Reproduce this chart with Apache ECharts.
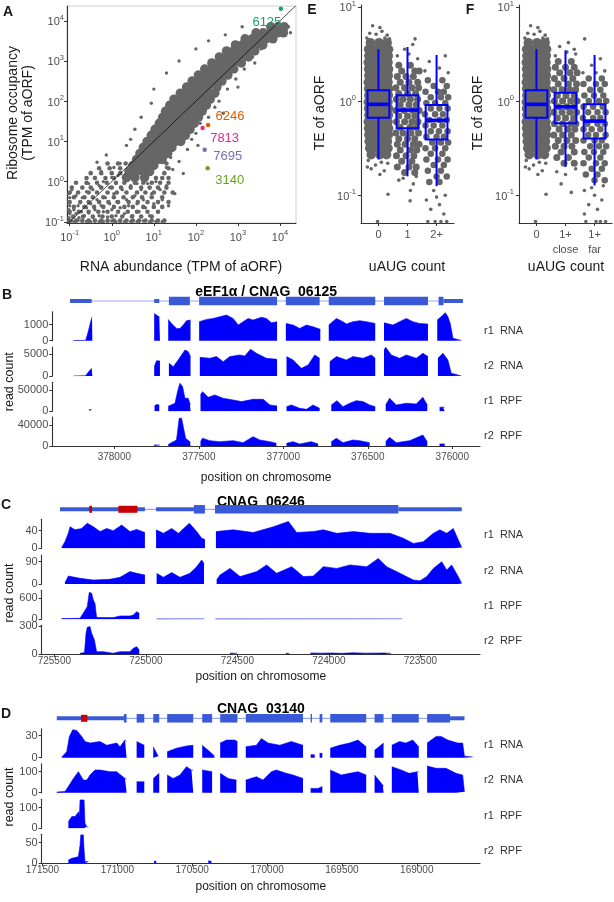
<!DOCTYPE html>
<html><head><meta charset="utf-8">
<script src="https://cdn.jsdelivr.net/npm/echarts@6.0.0/dist/echarts.min.js"></script>
<style>html,body{margin:0;padding:0;background:#fff;}#chart{width:614px;height:902px;}</style>
</head><body><div id="chart"></div>
<script>
// ================= DATA =================
// Panel A (log10 values)
const aTicks = [-1, 0, 1, 2, 3, 4];
const aCoreRows = [
[3.85,[3.78,3.95,4.1]],
[3.7,[3.43,3.6,3.77,3.94,4.08]],
[3.55,[3.17,3.34,3.5,3.66,3.83]],
[3.4,[2.94,3.1,3.27,3.43,3.59]],
[3.25,[2.73,2.9,3.07,3.24,3.4]],
[3.1,[2.56,2.73,2.9,3.07,3.25]],
[2.95,[2.38,2.55,2.72,2.89,3.08]],
[2.8,[2.21,2.38,2.55,2.72,2.9]],
[2.65,[2.06,2.23,2.4,2.57,2.76]],
[2.5,[1.91,2.08,2.25,2.42,2.62]],
[2.35,[1.78,1.95,2.12,2.29,2.5]],
[2.2,[1.63,1.8,1.97,2.14,2.31,2.45]],
[2.05,[1.48,1.65,1.82,1.99,2.16,2.34]],
[1.9,[1.38,1.55,1.72,1.89,2.06,2.25]],
[1.75,[1.28,1.45,1.62,1.79,1.96,2.15]],
[1.6,[1.21,1.38,1.55,1.72,1.89,2.06]],
[1.45,[1.13,1.3,1.47,1.64,1.81,1.96]],
[1.3,[1.03,1.2,1.37,1.54,1.71,1.86]],
[1.15,[0.94,1.11,1.28,1.45,1.62,1.75]],
[1.0,[0.84,1.01,1.18,1.35,1.52,1.64]],
[0.85,[0.75,0.92,1.09,1.26,1.43]],
[0.7,[0.67,0.84,1.01,1.18,1.33]],
[0.55,[0.59,0.76,0.93,1.1,1.2]],
[0.4,[0.5,0.67,0.84,1.0]],
[0.25,[0.41,0.58,0.75,0.9]],
[0.1,[0.35,0.55,0.78]]
];
const aMidRows = [
[0.45,[-0.1,0.15,0.33,1.3]],
[0.33,[-0.3,-0.05,0.2,1.35]],
[0.21,[-0.5,-0.25,0.0,0.2,1.25]],
[0.09,[-0.6,-0.4,-0.15,0.05,1.05,1.2,1.35]],
[-0.03,[-0.85,-0.6,-0.35,-0.12,0.1,0.3,0.55,0.75,0.95,1.15,1.35]],
[-0.15,[-0.95,-0.7,-0.5,-0.25,0.0,0.22,0.45,0.7,0.9,1.1,1.3]],
[-0.27,[-1.0,-0.8,-0.55,-0.35,-0.1,0.12,0.35,0.6,0.8,1.0,1.25,1.45]],
[-0.39,[-0.9,-0.65,-0.45,-0.2,0.05,0.28,0.5,0.72,0.95,1.2]],
[-0.51,[-1.0,-0.75,-0.55,-0.3,-0.08,0.15,0.4,0.62,0.85,1.1,1.35]],
[-0.63,[-0.9,-0.65,-0.42,-0.2,0.05,0.3,0.5,0.75,1.0,1.2]],
[-0.75,[-1.0,-0.78,-0.55,-0.32,-0.1,0.15,0.38,0.6,0.85,1.1]],
[-0.87,[-0.92,-0.68,-0.45,-0.22,0.0,0.25,0.48,0.7,0.95]],
[-0.97,[-1.0,-0.85,-0.7,-0.55,-0.4,-0.25,-0.1,0.05,0.2,0.35,0.5,0.65,0.8,0.95,1.1,1.25]]
];
const aSparse = [
[-1.02,-1.0],[-0.95,-0.98],[-0.88,-1.0],[-0.8,-0.97],[-0.7,-1.0],[-0.6,-0.99],[-0.5,-1.0],[-0.4,-0.98],[-0.3,-1.0],[-0.2,-0.99],[-0.1,-1.0],[0.0,-0.98],[0.1,-1.0],[0.2,-0.99],[0.3,-1.0],[0.45,-0.99],[0.6,-1.0],[0.75,-0.98],[0.9,-1.0],[1.05,-0.99],[1.2,-1.0],
[-1.02,-0.9],[-1.0,-0.8],[-1.02,-0.7],[-1.0,-0.6],[-1.02,-0.5],[-1.0,-0.4],[-1.02,-0.3],
[-0.92,-0.88],[-0.85,-0.8],[-0.9,-0.7],[-0.78,-0.9],[-0.72,-0.75],[-0.65,-0.85],[-0.8,-0.6],[-0.6,-0.65],[-0.55,-0.78],[-0.45,-0.88],[-0.5,-0.55],[-0.4,-0.7],[-0.35,-0.45],[-0.3,-0.85],[-0.25,-0.6],[-0.2,-0.75],[-0.15,-0.4],[-0.1,-0.88],[-0.05,-0.55],[0.0,-0.7],[0.05,-0.3],[0.1,-0.85],[0.12,-0.5],[0.2,-0.65],[0.25,-0.2],[0.3,-0.8],[0.35,-0.45],[0.4,-0.6],[0.45,-0.1],[0.5,-0.85],[0.55,-0.35],[0.6,-0.55],[0.65,-0.75],[0.7,-0.2],[0.75,-0.45],[0.8,-0.65],[0.85,-0.05],[0.9,-0.85],[0.95,-0.3],[1.0,-0.55],[1.05,0.0],[1.1,-0.75],[1.15,-0.2],[1.2,-0.45],[1.3,-0.1],[1.35,-0.6],[1.45,0.3],[1.5,-0.3],
[-0.7,-0.4],[-0.6,-0.25],[-0.45,-0.2],[-0.3,-0.1],[-0.2,0.0],[-0.05,-0.15],[0.0,0.1],[0.1,-0.05],[0.15,0.15],[0.3,0.05],[0.4,0.2],[0.5,0.1],[0.6,-0.05],[-0.4,0.1],[-0.55,-0.05],[-0.85,-0.35],[-0.95,-0.2],[-0.35,0.48],[-0.13,0.66],[0.2,0.45],[0.05,0.35],[-0.25,0.25],
[0.94,1.95],[0.55,1.3],[0.7,1.6],[1.0,2.3],[1.3,2.7],[1.6,3.0],[2.0,3.3],[2.3,3.5],[2.7,3.65],[3.1,3.85],[0.35,0.9],[0.45,1.05],
[2.0,1.2],[2.3,1.6],[2.55,2.0],[2.75,2.3],[2.95,2.55],[3.15,2.8],[3.35,3.1],[3.55,3.3],[3.8,3.5],[4.25,3.7],[4.2,3.85],[1.8,0.8],[1.6,0.5],[1.9,1.05],[2.1,1.45],[2.45,1.85],[1.7,0.2],[2.05,0.9],[3.4,2.95],[3.0,2.35],[2.65,1.7],[1.4,0.6],[1.3,0.35]
];
const aHighlight = [['6125',4.02,4.30],['6246',2.29,1.41],['7813',2.16,1.33],['7695',2.21,0.79],['3140',2.28,0.33]];

// Panels E / F (log10 TE); jitter rows: [log10 TE, [offsets]]
const teTicks = [-1, 0, 1];
const eCats = ['0', '1', '2+'];
const fCats = ['0', '1+\nclose', '1+\nfar'];
const eBox = [[1,-0.62,-0.178,-0.035,0.114,0.55],[2,-0.80,-0.29,-0.096,0.061,0.574],[3,-0.904,-0.407,-0.205,-0.043,0.489]];
const fBox = [[1,-0.62,-0.178,-0.035,0.114,0.55],[2,-0.699,-0.237,-0.061,0.088,0.539],[3,-0.897,-0.397,-0.213,-0.035,0.489]];
const zeroRows = [
[0.62,[-0.28,0.02,0.3]],[0.55,[-0.34,-0.1,0.13,0.35]],[0.48,[-0.33,-0.11,0.12,0.34]],[0.41,[-0.35,-0.12,0.1,0.33]],
[0.34,[-0.34,-0.1,0.12,0.35]],[0.27,[-0.33,-0.12,0.11,0.34]],[0.2,[-0.35,-0.11,0.12,0.33]],[0.13,[-0.34,-0.1,0.13,0.35]],
[0.06,[-0.33,-0.12,0.1,0.34]],[-0.01,[-0.35,-0.11,0.12,0.33]],[-0.08,[-0.34,-0.1,0.11,0.35]],[-0.15,[-0.33,-0.12,0.12,0.34]],
[-0.22,[-0.35,-0.11,0.1,0.33]],[-0.29,[-0.34,-0.1,0.13,0.35]],[-0.36,[-0.33,-0.12,0.11,0.34]],[-0.43,[-0.32,-0.1,0.12,0.31]],
[-0.5,[-0.3,-0.05,0.2,0.33]],[-0.57,[-0.25,0.05,0.28]]
];
const zeroSparse = [[-0.2,0.8],[0.05,0.78],[0.12,0.74],[-0.3,0.72],[0.3,0.7],[-0.08,0.71],[0.38,0.66],[-0.4,0.67],[0.22,0.67],[-0.35,-0.63],[0.1,-0.65],[-0.1,-0.68],[0.32,-0.66],[-0.25,-0.72],[0.2,-0.74],[0.05,-0.78],[-0.38,-0.7],[0.33,-0.99],[-0.03,-1.28]];
const oneRows = [
[0.38,[-0.3,0.1]],[0.32,[-0.2,0.25,0.4]],[0.26,[-0.35,-0.05,0.2]],[0.2,[-0.25,0.05,0.35]],[0.14,[-0.4,-0.1,0.15,0.38]],
[0.08,[-0.3,0.0,0.28]],[0.02,[-0.38,-0.15,0.1,0.35]],[-0.04,[-0.25,0.05,0.3]],[-0.1,[-0.4,-0.12,0.18,0.4]],[-0.16,[-0.3,0.0,0.25]],
[-0.22,[-0.38,-0.1,0.15,0.36]],[-0.28,[-0.25,0.08,0.3]],[-0.34,[-0.4,-0.15,0.12,0.38]],[-0.4,[-0.3,0.0,0.25]],[-0.46,[-0.35,-0.08,0.2,0.4]],
[-0.52,[-0.25,0.1,0.32]],[-0.58,[-0.38,-0.05,0.22]],[-0.64,[-0.2,0.15]],[-0.7,[-0.35,0.05,0.3]],[-0.76,[-0.1,0.25]]
];
const oneSparse = [[0.26,0.66],[-0.1,0.55],[0.05,0.5],[0.35,0.45],[-0.35,0.48],[0.18,0.6],[-0.3,-0.84],[0.2,-0.88],[0.09,-1.06],[-0.15,-0.82],[0.3,-0.8],[0.1,-0.95]];
const twoRows = [
[0.22,[-0.3,0.2]],[0.16,[-0.1,0.35]],[0.1,[-0.38,0.05,0.25]],[0.04,[-0.2,0.15,0.4]],[-0.02,[-0.35,-0.05,0.3]],
[-0.08,[-0.2,0.1,0.38]],[-0.14,[-0.4,-0.05,0.22]],[-0.2,[-0.25,0.1,0.35]],[-0.26,[-0.38,-0.1,0.2]],[-0.32,[-0.2,0.08,0.38]],
[-0.38,[-0.35,0.0,0.25]],[-0.44,[-0.15,0.15,0.4]],[-0.5,[-0.38,-0.05,0.3]],[-0.56,[-0.2,0.2]],[-0.62,[-0.35,0.05,0.38]],
[-0.68,[-0.1,0.25]],[-0.74,[-0.3,0.15]],[-0.8,[0.0,0.35]],[-0.86,[-0.25,0.1]]
];
const twoSparse = [[0.3,0.48],[-0.25,0.42],[0.1,0.35],[0.4,0.3],[-0.4,0.32],[-0.1,-0.95],[0.3,-1.0],[-0.35,-1.05],[0.1,-1.1],[-0.2,-1.15],[0.25,-1.2],[-0.05,-1.28],[0.15,-1.28],[0.35,-1.28],[-0.3,-1.28],[0.0,-1.02]];
const closeRows = [
[0.42,[-0.25,0.2]],[0.36,[-0.35,0.0,0.3]],[0.3,[-0.2,0.15,0.4]],[0.24,[-0.38,-0.05,0.25]],[0.18,[-0.25,0.1,0.38]],
[0.12,[-0.4,-0.12,0.15,0.35]],[0.06,[-0.28,0.02,0.3]],[0.0,[-0.38,-0.1,0.18,0.4]],[-0.06,[-0.25,0.05,0.3]],[-0.12,[-0.4,-0.12,0.15,0.38]],
[-0.18,[-0.28,0.0,0.28]],[-0.24,[-0.38,-0.1,0.18,0.36]],[-0.3,[-0.22,0.08,0.32]],[-0.36,[-0.4,-0.1,0.2]],[-0.42,[-0.25,0.05,0.35]],
[-0.48,[-0.35,-0.05,0.22]],[-0.54,[-0.15,0.3]],[-0.6,[-0.3,0.1]],[-0.66,[-0.05,0.3]]
];
const closeSparse = [[0.1,0.62],[-0.2,0.58],[0.3,0.55],[0.35,0.5],[-0.35,0.48],[0.05,0.52],[-0.3,-0.75],[0.0,-0.78],[-0.15,-0.88],[0.2,-0.97],[0.35,-0.72]];
const farRows = [
[0.24,[-0.2,0.25]],[0.18,[-0.38,0.05,0.35]],[0.12,[-0.15,0.2]],[0.06,[-0.35,-0.02,0.3]],[0.0,[-0.2,0.15,0.4]],
[-0.06,[-0.38,-0.05,0.28]],[-0.12,[-0.22,0.1,0.38]],[-0.18,[-0.4,-0.05,0.2]],[-0.24,[-0.25,0.1,0.35]],[-0.3,[-0.38,-0.1,0.2]],
[-0.36,[-0.22,0.05,0.38]],[-0.42,[-0.38,0.0,0.25]],[-0.48,[-0.15,0.15,0.4]],[-0.54,[-0.35,-0.02,0.3]],[-0.6,[-0.2,0.2]],
[-0.66,[-0.38,0.05,0.35]],[-0.72,[-0.1,0.25]],[-0.78,[-0.3,0.1]],[-0.84,[0.0,0.35]]
];
const farSparse = [[-0.34,0.66],[0.2,0.45],[-0.1,0.38],[0.35,0.32],[-0.4,0.3],[0.05,0.3],[-0.35,-0.95],[0.0,-1.0],[0.25,-1.05],[-0.2,-1.1],[0.1,-1.15],[-0.35,-1.2],[-0.3,-1.28],[0.05,-1.28],[0.2,-1.28],[0.38,-1.28],[-0.1,-0.92],[0.3,-0.9]];

// Genome panels: gene features [start, end, kind] kind 0 intron line, 1 UTR, 2 CDS, 3 uORF
const trackNames = ['r1  RNA', 'r2  RNA', 'r1  RPF', 'r2  RPF'];
const bTitle = 'eEF1\u03b1 / CNAG_06125';
const bPosTicks = [378000, 377500, 377000, 376500, 376000];
const bYTicks = [1000, 5000, 50000, 40000];
const bGene = [[378262,375937,0],[378262,378134,1],[377764,377734,1],[377677,377553,2],[377498,377037,2],[376985,376785,2],[376731,376456,2],[376404,376144,2],[376081,376052,2],[376052,375937,1]];
const bR1Rna = [
 [[378242,8],[378170,20],[378160,350],[378152,670],[378140,1190],[378132,1460],[378130,1450]],
 [[377764,1700],[377750,1600],[377734,1480],[377730,1450]],
 [[377681,1330],[377661,1080],[377632,770],[377612,760],[377592,980],[377573,1250],[377549,1290]],
 [[377498,1190],[377454,1330],[377415,1390],[377376,1500],[377336,1600],[377297,1390],[377267,980],[377238,1190],[377208,1390],[377179,1290],[377129,1460],[377100,1390],[377070,1120],[377037,1190]],
 [[376985,1080],[376942,980],[376903,770],[376863,980],[376824,870],[376781,710]],
 [[376731,980],[376686,1390],[376647,1190],[376627,1040],[376588,1190],[376548,1250],[376509,1190],[376456,1080]],
 [[376404,1120],[376351,980],[376312,1190],[376272,1390],[376233,1190],[376194,1080],[376144,1040]],
 [[376089,1290],[376055,1600],[376041,1750],[376026,1500],[376012,1080],[375996,150],[375947,20]]
];
const bR2Rna = [
 [[378242,10],[378170,60],[378167,230],[378152,1000],[378134,1770],[378130,1770]],
 [[377764,2160],[377750,3540],[377730,3460]],
 [[377677,2930],[377651,2160],[377622,3700],[377602,4850],[377582,6000],[377563,5620],[377549,4470]],
 [[377494,4310],[377435,4080],[377395,4470],[377356,3310],[377316,4470],[377257,4850],[377228,4620],[377194,6160],[377159,5240],[377100,4080],[377037,3850]],
 [[376981,4470],[376942,3700],[376893,1770],[376853,2540],[376814,4850],[376785,4080]],
 [[376725,3310],[376686,4470],[376627,3700],[376588,4470],[376528,4080],[376479,4850],[376456,4080]],
 [[376404,6000],[376394,6600],[376361,4850],[376312,4080],[376272,4850],[376213,4080],[376174,5240],[376144,4470]],
 [[376085,4080],[376055,5240],[376026,3700],[376006,620],[375947,30]]
];
const bR1Rpf = [
 [[378148,4000],[378134,4000]],
 [[377762,13000],[377750,16000],[377734,15000]],
 [[377681,12000],[377671,14900],[377641,18800],[377626,46000],[377612,65700],[377596,57900],[377582,30500],[377563,30500],[377553,18800],[377549,15000]],
 [[377490,38300],[377478,46100],[377444,32800],[377405,38300],[377356,30500],[377297,26600],[377247,22700],[377179,28200],[377119,28200],[377080,14900],[377037,12500]],
 [[376981,10900],[376952,14900],[376903,7000],[376863,4700],[376824,14900],[376785,7000]],
 [[376716,14900],[376682,25000],[376647,10900],[376607,18800],[376568,25000],[376528,22700],[376489,14900],[376456,10900]],
 [[376394,14900],[376371,30500],[376331,14900],[376272,18800],[376213,17200],[376174,32800],[376148,14900]],
 [[376075,9000],[376055,10000],[376045,9000]]
];
const bR2Rpf = [
 [[377764,2000],[377730,2000]],
 [[377681,3000],[377671,5200],[377651,8400],[377632,11600],[377616,53600],[377602,53600],[377592,37500],[377578,14900],[377553,8400],[377549,6000]],
 [[377490,8400],[377478,14900],[377435,10300],[377376,8400],[377297,10300],[377238,6500],[377179,18100],[377139,11600],[377080,8400],[377041,5200]],
 [[376981,5200],[376942,8400],[376903,3900],[376834,8400],[376794,3900]],
 [[376716,8400],[376686,14900],[376647,6500],[376588,11600],[376548,10300],[376489,6500]],
 [[376394,8400],[376371,16800],[376331,6500],[376253,10300],[376174,21300],[376148,8400]],
 [[376075,4000],[376045,4000]]
];

const cTitle = 'CNAG_06246';
const cPosTicks = [725500, 725000, 724500, 724000, 723500];
const cYTicks = [40, 90, 600, 300];
const cGene = [[725469,723274,0],[725469,725005,1],[724944,724737,1],[724737,724677,2],[724622,723620,2],[723620,723274,1],[725309,725294,3],[725150,725046,3]];
const cR1Rna = [
 [[725460,2],[725442,15],[725423,35],[725414,49],[725387,42],[725351,45],[725320,57],[725287,49],[725250,38],[725214,45],[725178,40],[725132,53],[725087,38],[725050,43],[725005,36]],
 [[724944,42],[724904,34],[724859,45],[724822,34],[724762,57],[724722,38],[724695,23],[724677,20]],
 [[724617,38],[724522,42],[724413,36],[724303,49],[724221,61],[724176,36],[724085,38],[724030,42],[723957,34],[723866,38],[723775,34],[723666,34],[723593,23],[723538,11],[723484,15],[723429,34],[723393,42],[723356,34],[723320,45],[723274,2]]
];
const cR2Rna = [
 [[725442,5],[725423,32],[725360,23],[725287,16],[725196,19],[725141,27],[725087,50],[725050,43],[725005,36]],
 [[724941,43],[724904,27],[724859,46],[724813,27],[724759,43],[724722,70],[724695,97],[724682,83]],
 [[724613,16],[724595,36],[724540,63],[724485,30],[724394,50],[724340,77],[724285,43],[724203,70],[724139,30],[724085,32],[724030,70],[723957,63],[723884,77],[723793,70],[723730,103],[723684,70],[723611,43],[723538,16],[723502,13],[723465,30],[723429,63],[723383,90],[723356,56],[723329,77],[723293,30],[723274,2]]
];
const cR1Rpf = [
 [[725460,20],[725360,29],[725342,171],[725320,362],[725309,771],[725296,743],[725287,552],[725278,457],[725269,57],[725250,48],[725178,48],[725141,95],[725087,95],[725068,124],[725050,219],[725036,171]],
 [[724941,12],[724680,12]],
 [[724620,12],[723600,12]]
];
const cR2Rpf = [
 [[725360,10],[725335,18],[725327,222],[725320,286],[725305,293],[725296,222],[725281,152],[725269,28],[725232,28],[725178,11],[725141,28],[725087,28],[725068,64],[725050,81],[725036,46]],
 [[724540,12],[724500,12]],
 [[724235,10],[724215,10]],
 [[724100,14],[724040,12],[723990,14],[723930,10],[723870,16],[723800,12],[723700,14],[723660,10]]
];

const dTitle = 'CNAG_03140';
const dPosTicks = [171500, 171000, 170500, 170000, 169500, 169000];
const dYTicks = [30, 100, 100, 50];
const dGene = [[171404,168682,0],[171404,170949,1],[170956,170938,2],[170871,170820,2],[170760,170720,2],[170667,170493,2],[170433,170367,2],[170313,170198,2],[170142,169760,2],[169709,169700,2],[169649,169631,2],[169578,169338,2],[169282,169222,2],[169167,168987,2],[168931,168778,2],[168778,168682,1],[171242,171200,3]];
const dR1Rna = [
 [[171371,1],[171338,8],[171320,29],[171298,38],[171271,37],[171238,29],[171216,22],[171182,20],[171116,22],[171071,17],[171004,20],[170982,15],[170949,24],[170938,22]],
 [[170871,22],[170820,17]],
 [[170760,15],[170727,2]],
 [[170667,8],[170605,13],[170538,16],[170493,17]],
 [[170433,17],[170382,8],[170360,4],[170349,3]],
 [[170313,20],[170271,24],[170216,24],[170198,22]],
 [[170142,15],[170071,17],[170038,26],[169993,20],[169915,17],[169838,22],[169760,17]],
 [[169709,4],[169682,4]],
 [[169649,6],[169631,6]],
 [[169578,13],[169516,17],[169449,20],[169393,24],[169338,15]],
 [[169282,10],[169222,20]],
 [[169167,17],[169116,22],[169073,20],[169027,24],[168987,15]],
 [[168931,20],[168871,29],[168838,29],[168793,24],[168727,20],[168694,20],[168682,2],[168627,1]]
];
const dR2Rna = [
 [[171404,3],[171349,6],[171327,29],[171293,68],[171260,100],[171227,60],[171204,60],[171182,84],[171149,108],[171116,108],[171049,100],[171004,100],[170949,68],[170938,65]],
 [[170871,52],[170820,52]],
 [[170760,68],[170720,92]],
 [[170667,84],[170627,68],[170582,84],[170538,124],[170505,108],[170493,108]],
 [[170433,108],[170367,100]],
 [[170313,92],[170260,68],[170205,60]],
 [[170142,60],[170071,76],[170027,60],[169971,100],[169938,108],[169871,92],[169827,84],[169760,68]],
 [[169709,20],[169660,20],[169649,28],[169631,30]],
 [[169578,108],[169504,84],[169449,92],[169393,100],[169338,84]],
 [[169282,84],[169227,36],[169222,30]],
 [[169167,124],[169156,124],[169104,108],[169051,92],[168996,100],[168987,100]],
 [[168931,127],[168871,116],[168805,116],[168738,92],[168694,84],[168682,5]]
];
const dR1Rpf = [
 [[171327,32],[171304,57],[171282,57],[171271,65],[171258,81],[171253,57],[171249,138],[171222,138],[171216,24],[171204,8],[171193,5]]
];
const dR2Rpf = [
 [[171327,8],[171304,12],[171298,16],[171260,16],[171249,44],[171244,69],[171227,69],[171222,32],[171216,4],[171193,4]],
 [[170755,5],[170745,7],[170740,5]],
 [[170392,6],[170380,7],[170372,5]]
];

// ================= BUILD =================
const FONT = "'Liberation Sans', Arial, Helvetica, sans-serif";
const TICK_C = '#4d4d4d', AX_C = '#333333', TITLE_C = '#1a1a1a', PT_C = '#666666', BLUE = '#0000ff';
const HL_COLORS = ['#1b9e77', '#d95f02', '#e7298a', '#7570b3', '#66a61e'];
const HL_OFFSETS = [[-14,14],[22,-8],[22,10],[23,7],[22,12]];
const GENE_STYLE = [{h:1.2,c:'#9aaaf0'},{h:4,c:'#3a59d8'},{h:8.5,c:'#3a59d8'},{h:7,c:'#c80000'}];
const PT_STYLE = {color:PT_C, opacity:1, borderWidth:0};

const grid = [], xAxis = [], yAxis = [], series = [], graphic = [];
function coord(g, xa, ya) {
  const i = grid.length;
  grid.push(Object.assign({outerBoundsMode:'none', containLabel:false}, g));
  xa.gridIndex = i; ya.gridIndex = i; xAxis.push(xa); yAxis.push(ya); return i;
}
function txt(x, y, text, o) {
  o = o || {}; const al = o.align || 'center';
  const st = {text:text, font:(o.bold?'bold ':'') + (o.size||12) + 'px ' + FONT, fill:o.color||TITLE_C,
    textAlign:al, textVerticalAlign:'middle', align:al, verticalAlign:'middle'};
  if (o.lh) st.lineHeight = o.lh;
  graphic.push({type:'text', x:x, y:y, rotation:o.rot||0, z:(o.z==null?50:o.z), silent:true, style:st});
}
const RICH = {
  b:{fontSize:11, color:TICK_C, fontFamily:FONT, lineHeight:14, verticalAlign:'bottom'},
  s:{fontSize:7.5, color:TICK_C, fontFamily:FONT, lineHeight:8, verticalAlign:'top'}
};
function supFmt(v){ return '{b|10}{s|' + String(Math.round(v)) + '}'; }
function logAxis(min, max, ticks, margin) {
  return {type:'value', min:min, max:max,
    axisLine:{show:true, onZero:false, lineStyle:{color:AX_C, width:1.1}},
    axisTick:{show:true, customValues:ticks, length:3, lineStyle:{color:AX_C, width:1}},
    axisLabel:{show:true, customValues:ticks, margin:margin, formatter:supFmt, rich:RICH, color:TICK_C},
    splitLine:{show:false}};
}
function catAxis(cats, margin) {
  return {type:'value', min:0.4, max:3.6,
    axisLine:{show:true, onZero:false, lineStyle:{color:AX_C, width:1.1}},
    axisTick:{show:true, customValues:[1,2,3], length:3, lineStyle:{color:AX_C, width:1}},
    axisLabel:{show:true, customValues:[1,2,3], margin:margin, fontSize:11, lineHeight:15, color:TICK_C, fontFamily:FONT,
      formatter:function(v){ return cats[Math.round(v)-1]; }},
    splitLine:{show:false}};
}
function rowsToPts(rows, cx) { const out=[]; rows.forEach(function(r){ r[1].forEach(function(o){ out.push([(cx||0)+o, r[0]]); }); }); return out; }
function sparseToPts(arr, cx) { return arr.map(function(p){ return [cx+p[0], p[1]]; }); }
function scatter(idx, data, size, z) {
  series.push({type:'scatter', xAxisIndex:idx, yAxisIndex:idx, data:data, symbolSize:size, itemStyle:PT_STYLE,
    emphasis:{disabled:true}, silent:true, z:z||2, large:false});
}

// ----- Panel A -----
const ai = coord({left:67, top:6, width:229, height:217, show:true, borderColor:'#d0d0d0', borderWidth:1, backgroundColor:'rgba(0,0,0,0)'},
  logAxis(-1.064, 4.38, aTicks, 6), logAxis(-1.03, 4.367, aTicks, 3));
scatter(ai, rowsToPts(aMidRows, 0), 4.6);
scatter(ai, rowsToPts(aCoreRows, 0), 9.5);
scatter(ai, aSparse, 3.4);
series.push({type:'line', xAxisIndex:ai, yAxisIndex:ai, data:[[-1.2,-1.2],[4.5,4.5]], symbol:'none', lineStyle:{color:'#000', width:0.7}, clip:true, silent:true, z:4});
series.push({type:'scatter', xAxisIndex:ai, yAxisIndex:ai, symbolSize:4.5, silent:true, z:5,
  data:aHighlight.map(function(h, i){ return {value:[h[1], h[2]], itemStyle:{color:HL_COLORS[i], opacity:1},
    label:{show:true, position:'inside', offset:HL_OFFSETS[i], formatter:h[0], color:HL_COLORS[i], fontSize:13, fontFamily:FONT}}; })});
txt(8, 12, 'A', {bold:true, size:14});
txt(21, 113, 'Ribosome occupancy\n(TPM of aORF)', {rot:Math.PI/2, size:14, lh:15});
txt(181, 267, 'RNA abundance (TPM of aORF)', {size:14});

// ----- Panels E, F -----
function boxRender(params, api) {
  const c = api.value(0), lo = api.value(1), q1 = api.value(2), md = api.value(3), q3 = api.value(4), hi = api.value(5);
  const hw = 0.375;
  const tl = api.coord([c-hw, q3]), br = api.coord([c+hw, q1]);
  const mL = api.coord([c-hw, md]), mR = api.coord([c+hw, md]);
  const top = api.coord([c, hi]), bot = api.coord([c, lo]);
  return {type:'group', children:[
    {type:'line', shape:{x1:top[0], y1:top[1], x2:top[0], y2:tl[1]}, style:{stroke:BLUE, lineWidth:2}},
    {type:'line', shape:{x1:bot[0], y1:br[1], x2:bot[0], y2:bot[1]}, style:{stroke:BLUE, lineWidth:2}},
    {type:'rect', shape:{x:tl[0], y:tl[1], width:br[0]-tl[0], height:br[1]-tl[1]}, style:{fill:'none', stroke:BLUE, lineWidth:2}},
    {type:'line', shape:{x1:mL[0], y1:mL[1], x2:mR[0], y2:mR[1]}, style:{stroke:BLUE, lineWidth:3.6}}
  ]};
}
function tePanel(left, cats, strips, boxes) {
  const gi = coord({left:left, top:5, width:93, height:218}, catAxis(cats, 4), logAxis(-1.295, 1.02, teTicks, 5));
  strips.forEach(function(s, k){
    scatter(gi, rowsToPts(s.rows, k+1), s.size);
    scatter(gi, sparseToPts(s.sparse, k+1), 3.6);
  });
  series.push({type:'custom', xAxisIndex:gi, yAxisIndex:gi, renderItem:boxRender, data:boxes, encode:{x:0, y:[1,2,3,4,5]}, silent:true, z:6, clip:false});
}
tePanel(361, eCats, [{rows:zeroRows, sparse:zeroSparse, size:9.5},{rows:oneRows, sparse:oneSparse, size:7},{rows:twoRows, sparse:twoSparse, size:6.5}], eBox);
tePanel(519, fCats, [{rows:zeroRows, sparse:zeroSparse, size:9.5},{rows:closeRows, sparse:closeSparse, size:7},{rows:farRows, sparse:farSparse, size:6.5}], fBox);
txt(312, 10, 'E', {bold:true, size:14});
txt(470, 10, 'F', {bold:true, size:14});
txt(320, 113, 'TE of aORF', {rot:Math.PI/2, size:14});
txt(478, 113, 'TE of aORF', {rot:Math.PI/2, size:14});
txt(407, 267, 'uAUG count', {size:14});
txt(566, 267, 'uAUG count', {size:14});

// ----- Genome panels -----
function joinSegs(segs) {
  const out = [];
  segs.forEach(function(s, i){ if (i > 0) out.push([s[0][0], '-']); s.forEach(function(p){ out.push(p); }); });
  return out;
}
function geneRender(params, api) {
  const s = api.value(0), e = api.value(1), k = api.value(2);
  const p1 = api.coord([s, 0]), p2 = api.coord([e, 0]);
  const st = GENE_STYLE[k];
  const x = Math.min(p1[0], p2[0]), w = Math.max(Math.abs(p2[0]-p1[0]), 1.2);
  return {type:'rect', shape:{x:x, y:p1[1]-st.h/2, width:w, height:st.h}, style:{fill:st.c}, z2:10};
}
function genomePanel(cfg, gene, tracks, yTicks, posTicks) {
  const W = cfg.right - cfg.left;
  const gg = coord({left:cfg.left, top:cfg.geneY-6, width:W, height:12},
    {type:'value', min:cfg.xmin, max:cfg.xmax, inverse:true, show:false},
    {type:'value', min:-1, max:1, show:false});
  series.push({type:'custom', xAxisIndex:gg, yAxisIndex:gg, renderItem:geneRender, data:gene, encode:{x:[0,1], y:2}, silent:true, z:100, clip:false});
  tracks.forEach(function(tr, i){
    const last = (i === tracks.length-1);
    const ti = coord({left:cfg.left, top:cfg.zeros[i]-29, width:W, height:29},
      {type:'value', min:cfg.xmin, max:cfg.xmax, inverse:true,
        axisLine:{show:last, onZero:false, lineStyle:{color:AX_C, width:1.1}},
        axisTick:{show:last, customValues:posTicks, length:3, lineStyle:{color:AX_C}},
        axisLabel:{show:last, customValues:posTicks, margin:cfg.xMargin, fontSize:10, color:TICK_C, fontFamily:FONT, formatter:function(v){ return String(v); }},
        splitLine:{show:false}},
      {type:'value', min:0, max:cfg.ymax[i],
        axisLine:{show:true, onZero:false, lineStyle:{color:AX_C, width:1.1}},
        axisTick:{show:true, customValues:[0, yTicks[i]], length:3, lineStyle:{color:AX_C}},
        axisLabel:{show:true, customValues:[0, yTicks[i]], margin:4, fontSize:11, color:TICK_C, fontFamily:FONT, formatter:function(v){ return String(v); }},
        splitLine:{show:false}});
    series.push({type:'line', xAxisIndex:ti, yAxisIndex:ti, data:joinSegs(tr), symbol:'none', showSymbol:false, connectNulls:false,
      lineStyle:{width:0.6, color:BLUE}, areaStyle:{color:BLUE, opacity:1}, silent:true, z:3});
    txt(484, cfg.zeros[i] + cfg.labOff, trackNames[i], {align:'left', size:11, color:'#333'});
  });
  txt((cfg.left+cfg.right)/2, cfg.titleY, cfg.title, {bold:true, size:14, color:'#000', z:0});
  txt(cfg.letter[1], cfg.letter[2], cfg.letter[0], {bold:true, size:14});
  txt(9.5, cfg.rcY, 'read count', {rot:Math.PI/2, size:12.5});
  txt((cfg.left+cfg.right)/2, cfg.posY, 'position on chromosome', {size:12});
}
genomePanel({left:52.3, right:480, xmin:375836, xmax:378367, geneY:301, zeros:[340.7,376,411.3,446], ymax:[1812,6682,68000,56000],
  labOff:-10, titleY:292.5, title:bTitle, letter:['B',7,295.5], rcY:381.7, posY:477.3, xMargin:6},
  bGene, [bR1Rna, bR2Rna, bR1Rpf, bR2Rpf], bYTicks, bPosTicks);
genomePanel({left:41.7, right:480, xmin:723174, xmax:725569, geneY:509.3, zeros:[548.3,584,619.3,654.3], ymax:[65.9,117,829,307],
  labOff:-13, titleY:501.7, title:cTitle, letter:['C',6,505], rcY:593, posY:676.7, xMargin:1.5},
  cGene, [cR1Rna, cR2Rna, cR1Rpf, cR2Rpf], cYTicks, cPosTicks);
genomePanel({left:41.7, right:480, xmin:168578, xmax:171505, geneY:718.3, zeros:[757.7,792.7,828.3,863.3], ymax:[39.5,138,141,70.4],
  labOff:-12.5, titleY:709.5, title:dTitle, letter:['D',6,714], rcY:797, posY:886.7, xMargin:1.5},
  dGene, [dR1Rna, dR2Rna, dR1Rpf, dR2Rpf], dYTicks, dPosTicks);

const chart = echarts.init(document.getElementById('chart'), null, {renderer:'canvas', width:614, height:902});
chart.setOption({
  backgroundColor:'#ffffff', animation:false,
  textStyle:{fontFamily:FONT},
  grid:grid, xAxis:xAxis, yAxis:yAxis, series:series, graphic:graphic
});
</script></body></html>
